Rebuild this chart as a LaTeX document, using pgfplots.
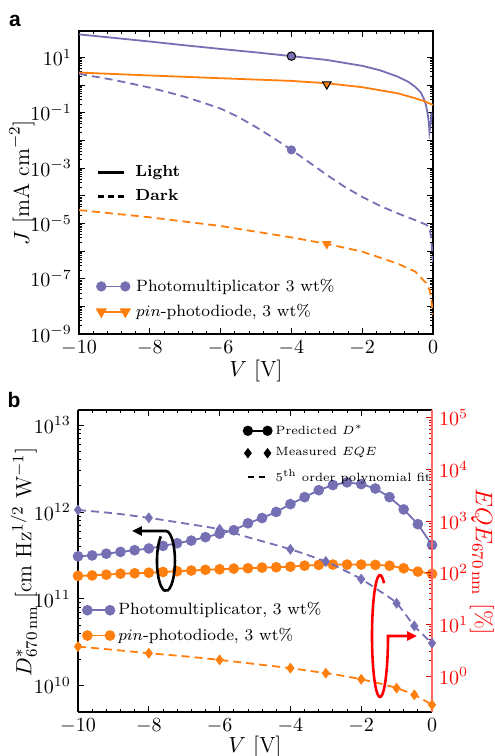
\documentclass[border=0pt]{standalone}
\usepackage{pgfplots}
\pgfplotsset{compat=1.18}
\usepackage{fontspec}
\newfontfamily\panelfont{Liberation Sans}
\usetikzlibrary{arrows.meta}
\definecolor{mblue}{RGB}{117,112,179}
\definecolor{morange}{RGB}{255,127,14}
\pgfplotsset{
  base/.style={scale only axis, width=177pt, xmin=-10, xmax=0,
    xtick={-10,-8,...,0}, minor x tick num=4, tick align=inside,
    major tick length=3pt, minor tick length=1.6pt,
    axis line style={line width=0.7pt},
    every tick/.style={black, line width=0.4pt},
    label style={font=\fontsize{11}{13}\selectfont},
    legend cell align=left},
  duoA/.style={legend image code/.code={\draw[##1] plot coordinates {(0pt,0pt) (12pt,0pt)}; \path (15pt,0pt);}},
  duoB/.style={legend image code/.code={\draw[##1] plot coordinates {(0pt,0pt) (11.3pt,0pt)};}},
  lineleg/.style={legend image code/.code={\draw[##1] (0pt,0pt) -- (13pt,0pt); \path (16pt,0pt);}},
  duosmall/.style={legend image code/.code={\draw[##1] plot coordinates {(0pt,0pt) (9.8pt,0pt)};}},
  twodiam/.style={legend image code/.code={\draw[##1] plot coordinates {(0pt,0pt)}; \draw[##1] plot coordinates {(9.8pt,0pt)};}},
  hidden/.style={scale only axis, width=177pt, hide axis, xmin=0, xmax=1, ymin=0, ymax=1,
    legend cell align=left},
}
\begin{document}
\begin{tikzpicture}
% ---------------- panel a ----------------
\begin{axis}[base, at={(39.5pt,211pt)}, anchor=south west, height=151.5pt,
  ymode=log, ymin=1e-9, ymax=89,
  ytick={1e-9,1e-8,1e-7,1e-6,1e-5,1e-4,1e-3,1e-2,1e-1,1,10},
  yticklabels={$10^{-9}$,,$10^{-7}$,,$10^{-5}$,,$10^{-3}$,,$10^{-1}$,,$10^{1}$},
  xlabel={$V\ [\mathrm{V}]$}, ylabel={$J\ [\mathrm{mA\ cm}^{-2}]$},
  xlabel style={at={(axis description cs:0.5,-0.122)}, anchor=center},
  ylabel style={at={(axis description cs:-0.161,0.5)}, anchor=center},
  legend style={at={(0.033,0.21)}, anchor=north west, draw=none, fill=none,
    font=\fontsize{8.2}{10}\selectfont, row sep=1pt}]
\addplot[mblue, line width=0.9pt, forget plot] table {
-10 67
-9 50
-8 37
-7 27
-6 20
-5 15
-4 11
-3 8
-2 4.9
-1.5 3.4
-1 2.0
-0.7 1.3
-0.5 0.85
-0.35 0.55
-0.25 0.3
-0.2 0.19
-0.15 0.09
-0.12 0.045
-0.1 0.02
-0.08 0.03
-0.05 0.06
-0.04 0.1
};
\addplot[morange, line width=0.9pt, forget plot] table {
-10 2.8
-8 2.2
-6 1.75
-4 1.4
-3 1.15
-2 0.83
-1 0.5
-0.5 0.33
-0.25 0.26
0 0.19
};
\addplot[mblue, line width=0.9pt, dash pattern=on 4pt off 2.5pt, forget plot] table {
-10 2.5
-9.5 1.95
-9 1.5
-8.5 1.1
-8 0.8
-7.5 0.55
-7 0.37
-6.5 0.23
-6 0.14
-5.5 0.07
-5 0.03
-4.5 0.012
-4 0.0045
-3.5 0.0016
-3 5.6e-4
-2.5 2.1e-4
-2 9e-5
-1.5 4.3e-5
-1 2.3e-5
-0.5 1.3e-5
-0.2 9e-6
-0.1 7e-6
-0.05 3e-6
-0.02 8e-7
0 4e-7
};
\addplot[morange, line width=0.9pt, dash pattern=on 4pt off 2.5pt, forget plot] table {
-10 3.0e-5
-8 1.65e-5
-6 8e-6
-4 3.1e-6
-3 1.8e-6
-2 9.5e-7
-1 3.5e-7
-0.5 1.8e-7
-0.2 7e-8
-0.1 4e-8
-0.05 2e-8
-0.02 8e-9
0 5e-9
};
\addplot[only marks, mark=*, mark size=2.1pt, mark options={fill=mblue, draw=black, line width=0.5pt}, forget plot] table {
-4 11
};
\addplot[only marks, mark=triangle*, mark size=2.4pt, mark options={rotate=180, fill=morange, draw=black, line width=0.5pt}, forget plot] table {
-3 1.05
};
\addplot[only marks, mark=*, mark size=2.1pt, mark options={fill=mblue, draw=mblue}, forget plot] table {
-4 0.0045
};
\addplot[only marks, mark=triangle*, mark size=2.4pt, mark options={rotate=180, fill=morange, draw=morange}, forget plot] table {
-3 1.8e-6
};
\addlegendimage{mblue, line width=0.9pt, mark=*, mark size=2.1pt, duoA}
\addlegendentry{Photomultiplicator 3 wt\%}
\addlegendimage{morange, line width=0.9pt, mark=triangle*, mark size=2.4pt, mark options={rotate=180}, duoA}
\addlegendentry{$pin$-photodiode, 3 wt\%}
\end{axis}
\begin{axis}[hidden, at={(39.5pt,211pt)}, anchor=south west, height=151.5pt,
  legend style={at={(0.031,0.585)}, anchor=north west, draw=none, fill=none,
    font=\fontsize{8}{10}\selectfont\bfseries, row sep=1pt}]
\addlegendimage{black, line width=1.5pt, lineleg}
\addlegendentry{Light}
\addlegendimage{black, line width=1.5pt, dash pattern=on 3pt off 2pt, lineleg}
\addlegendentry{Dark}
\end{axis}
% ---------------- panel b ----------------
\begin{axis}[base, at={(39pt,22pt)}, anchor=south west, height=151pt,
  axis y line*=left, ymode=log, ymin=5e9, ymax=1.49e13,
  ytick={1e10,1e11,1e12,1e13},
  xlabel={$V\ [\mathrm{V}]$},
  ylabel={$D^{*}_{670\,\mathrm{nm}}\ [\mathrm{cm\ Hz}^{1/2}\ \mathrm{W}^{-1}]$},
  xlabel style={at={(axis description cs:0.5,-0.116)}, anchor=center},
  ylabel style={at={(axis description cs:-0.153,0.497)}, anchor=center},
  legend style={at={(-0.004,0.39)}, anchor=north west, draw=none, fill=none,
    font=\fontsize{8.2}{10}\selectfont, row sep=1pt}]
\addplot[mblue, line width=0.9pt, mark=*, mark size=2.2pt, duoB] table {
-10 3.09e11
-9.6 3.16e11
-9.2 3.31e11
-8.8 3.47e11
-8.4 3.63e11
-8.0 3.80e11
-7.6 4.07e11
-7.2 4.37e11
-6.8 4.68e11
-6.4 5.13e11
-6.0 5.62e11
-5.6 6.17e11
-5.2 7.41e11
-4.8 8.51e11
-4.4 1.0e12
-4.0 1.23e12
-3.6 1.48e12
-3.2 1.78e12
-2.8 2.04e12
-2.4 2.19e12
-2.0 2.09e12
-1.6 1.86e12
-1.2 1.48e12
-0.8 1.07e12
-0.4 7.24e11
0 4.17e11
};
\addlegendentry{Photomultiplicator, 3 wt\%}
\addplot[morange, line width=0.9pt, mark=*, mark size=2.2pt, duoB] table {
-10 1.84e11
-9.6 1.86e11
-9.2 1.90e11
-8.8 1.95e11
-8.4 1.97e11
-8.0 2.0e11
-7.6 2.04e11
-7.2 2.08e11
-6.8 2.12e11
-6.4 2.16e11
-6.0 2.19e11
-5.6 2.23e11
-5.2 2.25e11
-4.8 2.29e11
-4.4 2.31e11
-4.0 2.35e11
-3.6 2.41e11
-3.2 2.46e11
-2.8 2.48e11
-2.4 2.48e11
-2.0 2.48e11
-1.6 2.46e11
-1.2 2.41e11
-0.8 2.25e11
-0.4 2.06e11
0 1.94e11
};
\addlegendentry{$pin$-photodiode, 3 wt\%}
\end{axis}
\begin{axis}[scale only axis, at={(39pt,22pt)}, anchor=south west, width=177pt, height=151pt,
  xmin=-10, xmax=0, axis x line=none, axis y line*=right,
  ymode=log, ymin=0.2, ymax=1.41e5, ytick={1,10,100,1000,10000,100000},
  tick align=inside, major tick length=3pt, minor tick length=1.6pt,
  axis line style={line width=0.7pt, red!60},
  every tick/.style={red!80!black, line width=0.4pt},
  yticklabel style={red},
  ylabel={$EQE_{670\,\mathrm{nm}}\ [\%]$},
  ylabel style={red, rotate=180, font=\fontsize{11.5}{13}\selectfont,
    at={(axis description cs:1.141,0.497)}, anchor=center}]
\addplot[mblue, line width=0.9pt, dash pattern=on 4pt off 2.5pt, smooth] table {
-10 1630
-9 1410
-8 1150
-7 900
-6 690
-5 443
-4 283
-3 164
-2.5 113
-2 75
-1.5 45
-1 25.5
-0.5 9.3
0 4.3
};
\addplot[morange, line width=0.9pt, dash pattern=on 4pt off 2.5pt, smooth] table {
-10 3.7
-9 3.2
-8 2.75
-7 2.4
-6 2.04
-5 1.7
-4 1.41
-3 1.13
-2.5 1.0
-2 0.86
-1.5 0.72
-1 0.58
-0.5 0.43
0 0.275
};
\addplot[only marks, mark=diamond*, mark size=2.4pt, mblue] table {
-10 1630
-8 1150
-6 690
-4 283
-3 164
-2 75
-1 25.5
-0.5 9.3
0 4.3
};
\addplot[only marks, mark=diamond*, mark size=2.4pt, morange] table {
-10 3.7
-8 2.75
-6 2.04
-4 1.41
-3 1.13
-2 0.86
-1 0.58
-0.5 0.43
0 0.275
};
\end{axis}
\begin{axis}[hidden, at={(39pt,22pt)}, anchor=south west, height=151pt,
  legend style={at={(0.45,0.98)}, anchor=north west, draw=none, fill=none,
    font=\fontsize{6}{7.5}\selectfont, row sep=1.2pt}]
\addlegendimage{black, line width=0.9pt, mark=*, mark size=2.1pt, duosmall}
\addlegendentry{Predicted $D^{*}$}
\addlegendimage{black, mark=diamond*, mark size=2.3pt, twodiam}
\addlegendentry{Measured $EQE$}
\addlegendimage{black, line width=0.9pt, dash pattern=on 3pt off 2.5pt, duosmall}
\addlegendentry{$5^{\mathrm{th}}$ order polynomial fit}
\end{axis}
% annotation loops
\draw[line width=1.3pt, black, -{Triangle[length=5pt,width=4.5pt]}]
  (80.4pt,109.8pt) arc[start angle=125, end angle=450, x radius=4.5pt, y radius=15pt] -- ++(-17pt,0);
\draw[line width=1.3pt, red, -{Triangle[length=5pt,width=4.5pt]}]
  (192pt,86.4pt) arc[start angle=60, end angle=360, x radius=4pt, y radius=30.5pt] -- ++(14.5pt,0);
\node[font=\panelfont\bfseries\fontsize{10.5}{12}\selectfont] at (7.5pt,367.5pt) {a};
\node[font=\panelfont\bfseries\fontsize{10.5}{12}\selectfont] at (7pt,178pt) {b};
\pgfresetboundingbox
\useasboundingbox (0,0) rectangle (247pt,378pt);
\end{tikzpicture}
\end{document}
